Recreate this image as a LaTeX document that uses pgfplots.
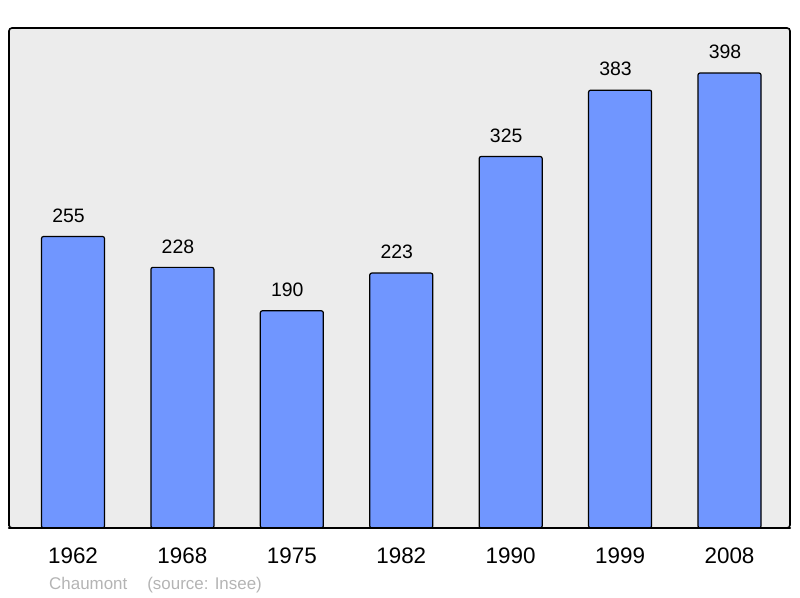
\documentclass[border=0pt]{standalone}
\usepackage{pgfplots}
\pgfplotsset{compat=1.18}
\usepackage{fontspec}
\setmainfont{Liberation Sans}
\definecolor{barblue}{RGB}{112,150,255}
\definecolor{bggray}{RGB}{236,236,236}
\definecolor{credit}{RGB}{180,180,180}
\begin{document}
\begin{tikzpicture}[x=1bp,y=1bp]
\path[use as bounding box] (0,0) rectangle (800,598);
\begin{axis}[
    at={(9bp,70bp)}, anchor=south west,
    scale only axis,
    width=781bp, height=500bp,
    xmin=-0.585, xmax=6.553,
    ymin=0, ymax=437.4,
    axis background/.style={fill=bggray},
    axis line style={line width=1.6bp, rounded corners=3bp},
    xtick={0,...,6},
    xticklabels={1962,1968,1975,1982,1990,1999,2008},
    ytick=\empty,
    major tick length=0pt,
    xticklabel style={font=\fontsize{22.5}{26}\selectfont, anchor=center, yshift=-28bp},
    ybar, bar width=63bp,
    nodes near coords,
    /pgf/number format/assume math mode=true,
    every node near coord/.append style={font=\fontsize{19.5}{23}\selectfont, anchor=center, xshift=-4.5bp, yshift=21bp},
    clip=false,
]
\addplot[fill=barblue, draw=black, line width=1.2bp, rounded corners=2bp]
  coordinates {(0,255) (1,228) (2,190) (3,223) (4,325) (5,383) (6,398)};
\draw[line width=2.4bp, line cap=round] (rel axis cs:0,0) -- (rel axis cs:1,0);
\end{axis}
\node[anchor=base west, text=credit, font=\fontsize{17}{20}\selectfont, inner sep=0pt] at (49,8) {Chaumont\hspace{20bp}(source: Insee)};
\end{tikzpicture}
\end{document}
